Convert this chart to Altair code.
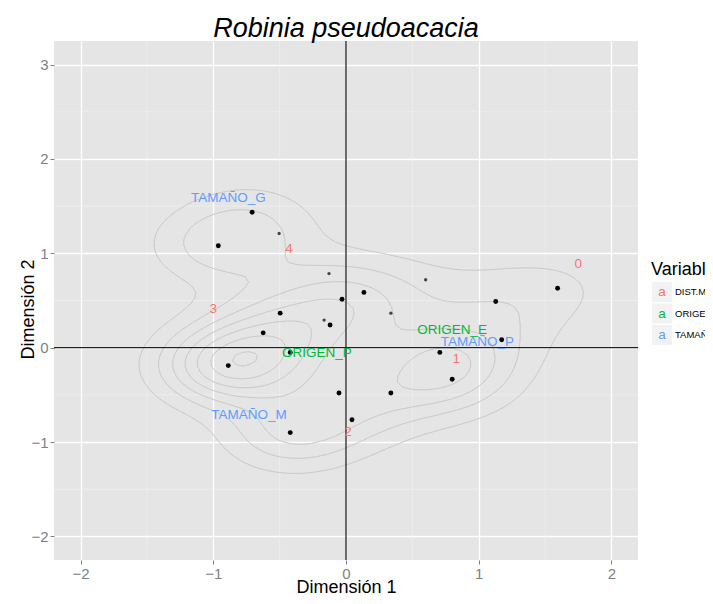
import numpy as np
import pandas as pd
import altair as alt

# ---------------- data ----------------
# individuals (MCA row coordinates); weight = apparent multiplicity
ind_dim1 = [-0.707, -0.962, 1.594, 1.128, 0.135, -0.030, -0.496, -0.120, -0.624,
            -0.420, -0.887, 1.173, 0.707, 0.800, -0.053, 0.338, 0.045, -0.420,
            -0.504, -0.128, 0.600, 0.338, -0.165]
ind_dim2 = [1.435, 1.080, 0.630, 0.490, 0.586, 0.513, 0.366, 0.240, 0.157,
            -0.050, -0.190, 0.084, -0.050, -0.335, -0.480, -0.480, -0.764, -0.900,
            1.210, 0.785, 0.720, 0.366, 0.293]
ind_weight = [2, 5, 2, 2, 2, 2, 2, 2, 3,
              3, 12, 2, 4, 5, 2, 3, 2, 6,
              1, 1, 1, 1, 1]

# category labels (MCA column coordinates)
cat_label = ["0", "1", "2", "3", "4",
             "ORIGEN_E", "ORIGEN_P",
             "TAMAÑO_G", "TAMAÑO_M", "TAMAÑO_P"]
cat_var = ["DIST.MED", "DIST.MED", "DIST.MED", "DIST.MED", "DIST.MED",
           "ORIGEN", "ORIGEN",
           "TAMAÑO", "TAMAÑO", "TAMAÑO"]
cat_dim1 = [1.75, 0.83, 0.015, -1.00, -0.43, 0.80, -0.22, -0.887, -0.73, 0.99]
cat_dim2 = [0.89, -0.115, -0.89, 0.41, 1.05, 0.19, -0.06, 1.59, -0.71, 0.063]

var_names = ["DIST.MED", "ORIGEN", "TAMAÑO"]
var_colors = ["#F8766D", "#00BA38", "#619CFF"]

x_domain = [-2.2, 2.2]
y_domain = [-2.25, 3.25]
major_breaks = [-2, -1, 0, 1, 2, 3]
x_minor = [-1.5, -0.5, 0.5, 1.5]
y_minor = [-1.5, -0.5, 0.5, 1.5, 2.5]

# ---------------- 2-D density contours (like stat_density2d) ----------------
px = np.array(ind_dim1)
py = np.array(ind_dim2)
w = np.array(ind_weight, dtype=int)
xs = np.repeat(px, w)
ys = np.repeat(py, w)


def bw_nrd(v):
    q = np.percentile(v, [25, 75])
    h = (q[1] - q[0]) / 1.34
    return 4 * 1.06 * min(np.std(v, ddof=1), h) * len(v) ** (-0.2)


# bandwidth: between the distinct-position and all-individual normal-reference rules
hx = np.sqrt(bw_nrd(px) * bw_nrd(xs)) / 4
hy = np.sqrt(bw_nrd(py) * bw_nrd(ys)) / 4
n = 100
gx = np.linspace(x_domain[0], x_domain[1], n)
gy = np.linspace(y_domain[0], y_domain[1], n)
ax_ = np.exp(-0.5 * ((gx[None, :] - xs[:, None]) / hx) ** 2) / (hx * np.sqrt(2 * np.pi))
ay_ = np.exp(-0.5 * ((gy[None, :] - ys[:, None]) / hy) ** 2) / (hy * np.sqrt(2 * np.pi))
Z = (ay_.T @ ax_) / len(xs)  # Z[iy, ix]


def pretty_levels(lo, hi, k=10):
    raw = (hi - lo) / k
    mag = 10 ** np.floor(np.log10(raw))
    best = None
    for m in [1, 2, 5, 10]:
        step = m * mag
        cnt = (hi - lo) / step
        if best is None or abs(cnt - k) < abs(best[1] - k):
            best = (step, cnt)
    step = best[0]
    levs = np.arange(np.ceil(lo / step) * step, hi, step)
    return [l for l in levs if l > lo]


levels = pretty_levels(Z.min(), Z.max(), 10)


def interp(p1, p2, v1, v2, lev):
    t = (lev - v1) / (v2 - v1)
    return (p1[0] + t * (p2[0] - p1[0]), p1[1] + t * (p2[1] - p1[1]))


segs = []
corner_edges = {0: (3, 0), 1: (0, 1), 2: (1, 2), 3: (2, 3)}
for li, lev in enumerate(levels):
    for i in range(n - 1):
        for j in range(n - 1):
            c = [Z[i, j], Z[i, j + 1], Z[i + 1, j + 1], Z[i + 1, j]]
            above = [v >= lev for v in c]
            if all(above) or not any(above):
                continue
            pts = [(gx[j], gy[i]), (gx[j + 1], gy[i]), (gx[j + 1], gy[i + 1]), (gx[j], gy[i + 1])]
            cross = {}
            for e in range(4):
                a, b = e, (e + 1) % 4
                if above[a] != above[b]:
                    cross[e] = interp(pts[a], pts[b], c[a], c[b], lev)
            keys = sorted(cross)
            if len(keys) == 2:
                pairs = [(keys[0], keys[1])]
            else:
                center = sum(c) / 4 >= lev
                pairs = [corner_edges[k] for k in range(4) if above[k] != center]
            for a, b in pairs:
                (x1, y1), (x2, y2) = cross[a], cross[b]
                segs.append({"x": x1, "y": y1, "x2": x2, "y2": y2, "level": li})

seg_df = pd.DataFrame(segs)
ind_df = pd.DataFrame({"d1": ind_dim1, "d2": ind_dim2, "w": ind_weight})
cat_df = pd.DataFrame({"label": cat_label, "Variable": cat_var, "d1": cat_dim1, "d2": cat_dim2})
xgrid_df = pd.DataFrame({"v": x_minor})
ygrid_df = pd.DataFrame({"v": y_minor})

xs_ = alt.Scale(domain=x_domain, nice=False, zero=False)
ys_ = alt.Scale(domain=y_domain, nice=False, zero=False)

common_axis = dict(grid=True, gridColor="white", gridWidth=1.3, domain=False,
                   tickColor="#7F7F7F", tickSize=4, labelPadding=2, format="d",
                   labelColor="#7F7F7F", labelFontSize=15, labelFont="Liberation Sans",
                   titleFont="Liberation Sans", titleFontSize=18, titleFontWeight="normal",
                   titleColor="black", values=major_breaks)
x_axis = alt.Axis(title="Dimensión 1", titleY=32, titleBaseline="alphabetic", **common_axis)
y_axis = alt.Axis(title="Dimensión 2", titleX=-26, titleY=268, titleAngle=-90,
                  titleAlign="center", titleBaseline="middle", **common_axis)

base_x = alt.X("d1:Q", scale=xs_, axis=x_axis)
base_y = alt.Y("d2:Q", scale=ys_, axis=y_axis)

minor_v = alt.Chart(xgrid_df).mark_rule(color="#F2F2F2", strokeWidth=0.6).encode(
    x=alt.X("v:Q", scale=xs_, axis=x_axis))
minor_h = alt.Chart(ygrid_df).mark_rule(color="#F2F2F2", strokeWidth=0.6).encode(
    y=alt.Y("v:Q", scale=ys_, axis=y_axis))

contours = alt.Chart(seg_df).mark_rule(color="#CBCBCB", strokeWidth=1, strokeCap="round").encode(
    x=alt.X("x:Q", scale=xs_, axis=x_axis), y=alt.Y("y:Q", scale=ys_, axis=y_axis),
    x2="x2:Q", y2="y2:Q", detail="level:N")

one = xgrid_df.head(1)
zero_v = alt.Chart(one).mark_rule(color="#222222", strokeWidth=1.3).encode(x=alt.datum(0))
zero_h = alt.Chart(one).mark_rule(color="#222222", strokeWidth=1.3).encode(y=alt.datum(0))

points = alt.Chart(ind_df).mark_circle(opacity=1).encode(
    x=base_x, y=base_y,
    size=alt.condition("datum.w > 1", alt.value(24), alt.value(11)),
    color=alt.condition("datum.w > 1", alt.value("#000000"), alt.value("#444444")))

labels = alt.Chart(cat_df).mark_text(font="Liberation Sans", fontSize=13.5, align="center",
                                     baseline="middle").encode(
    x=base_x, y=base_y, text="label:N",
    fill=alt.Fill("Variable:N", scale=alt.Scale(domain=var_names, range=var_colors), legend=None))

# manual legend (ggplot style keys with a coloured "a")
leg_layers = [alt.Chart(one).mark_text(
    font="Liberation Sans", fontSize=18, align="left", baseline="middle", color="black").encode(
    x=alt.value(597), y=alt.value(229), text=alt.value("Variable"))]
for k, (name, col) in enumerate(zip(var_names, var_colors)):
    yc = 251 + 21.5 * k
    leg_layers.append(alt.Chart(one).mark_rect(color="#F2F2F2").encode(
        x=alt.value(598), x2=alt.value(618), y=alt.value(yc - 10), y2=alt.value(yc + 10)))
    leg_layers.append(alt.Chart(one).mark_text(
        font="Liberation Sans", fontSize=13.5, align="center", baseline="middle", color=col).encode(
        x=alt.value(608), y=alt.value(yc), text=alt.value("a")))
    leg_layers.append(alt.Chart(one).mark_text(
        font="Liberation Sans", fontSize=9.5, align="left", baseline="middle", color="black").encode(
        x=alt.value(621), y=alt.value(yc), text=alt.value(name)))

chart = alt.layer(minor_v, minor_h, contours, zero_v, zero_h, points, labels, *leg_layers).properties(
    width=584, height=519,
    title=alt.TitleParams("Robinia pseudoacacia", font="Liberation Sans", fontSize=27,
                          fontStyle="italic", fontWeight="normal", color="black",
                          anchor="middle", frame="group", offset=2, dy=5),
    autosize=alt.AutoSizeParams(type="none"),
    padding={"left": 46, "top": 33, "right": 67, "bottom": 36},
).configure(background="white").configure_view(fill="#E5E5E5", stroke=None)

chart.save("out.html", embed_options={"renderer": "svg", "actions": False})
